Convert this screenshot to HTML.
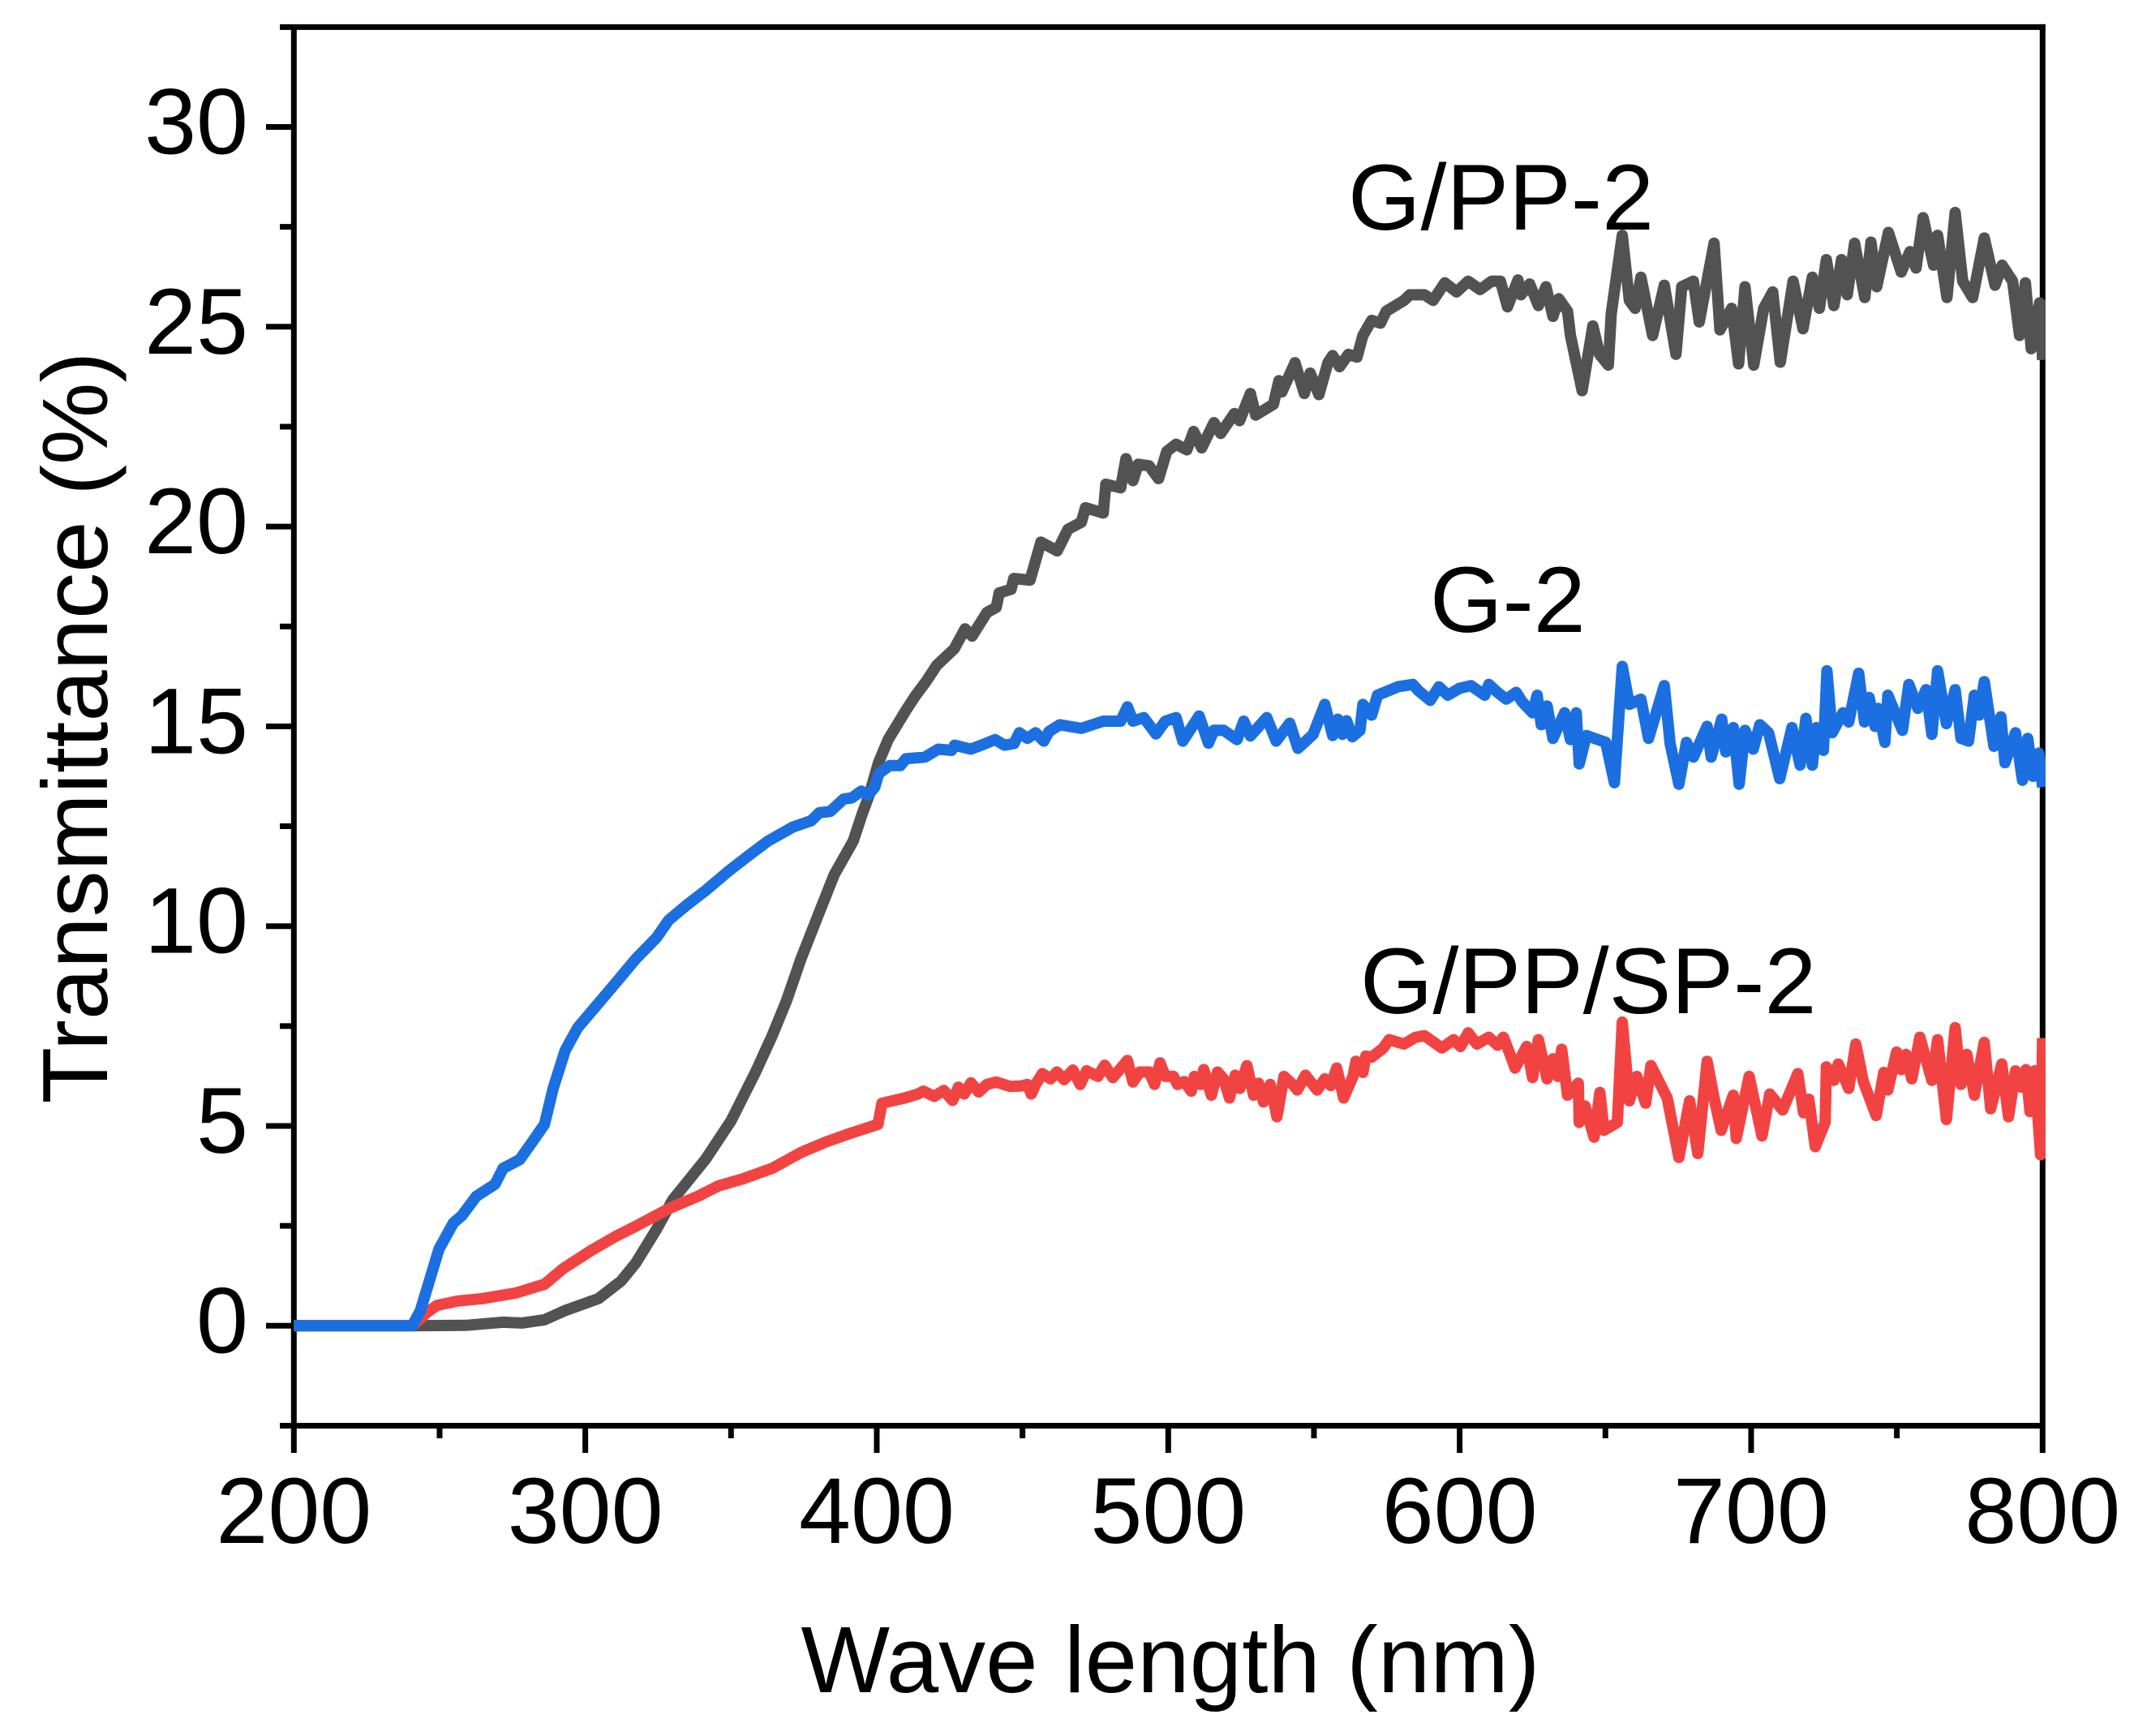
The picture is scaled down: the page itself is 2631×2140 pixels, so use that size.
<!DOCTYPE html>
<html lang="en">
<head>
<meta charset="utf-8">
<title>Transmittance vs wave length</title>
<style>
html,body{margin:0;padding:0;background:#fff;}
svg{display:block;}
text{font-family:"Liberation Sans",Arial,sans-serif;fill:#000;}
</style>
</head>
<body>
<svg id="chart" xmlns="http://www.w3.org/2000/svg" width="2631" height="2140" viewBox="0 0 2631 2140">
  <rect x="0" y="0" width="2631" height="2140" fill="#fff"/>
  <defs><clipPath id="plot-clip"><rect x="362" y="20" width="2160" height="1760"/></clipPath></defs>
  <g id="axes"></g>
  <g id="series" clip-path="url(#plot-clip)"></g>
  <text x="1443" y="2086" font-size="116" text-anchor="middle">Wave length (nm)</text>
  <text transform="translate(132,897) rotate(-90)" font-size="114" text-anchor="middle">Transmittance (%)</text>
  <text x="1662" y="283" font-size="115">G/PP-2</text>
  <text x="1763" y="779" font-size="115">G-2</text>
  <text x="1677" y="1249" font-size="115">G/PP/SP-2</text>
</svg>
<script>
const xMajorTicks = [200,300,400,500,600,700,800];
const xMinorTicks = [250,350,450,550,650,750];
const yMajorTicks = [0,5,10,15,20,25,30];
const yMinorTicks = [-2.5,2.5,7.5,12.5,17.5,22.5,27.5,32.5];

const grayNm = [200,240.6,259,271.8,278.2,286,293,304.5,312.3,317.3,
324.3,330,341.3,350,358.5,364,369,374,379.7,385.4,
391.9,395,397.4,400.6,403.9,410,413.2,416.9,420.6,426.6,
430.3,432.7,437.8,441,442,446.1,447,452.6,456.3,461.9,
465.6,470.2,471.6,477.7,478.6,483.7,485.5,487.9,489.7,493.4,
496.7,499.5,502.7,506.4,508.7,511.5,515.7,518,522.7,524.5,
528.2,530,536.1,538,539,543.5,546.7,548.7,551.7,554.8,
556.4,558.8,561.8,564.8,566.8,569.8,572.8,574.8,580.9,582.9,
587.9,590.9,594.9,598.9,602.9,607,611,614,616.4,620,
621,624,627,629.6,632,634,637,638,642,645.7,
648,651,652,655.8,658.2,660.2,662.2,666.2,670.2,674.2,
676.2,680.2,682.2,687.3,689.3,693.3,695.7,697.9,700.9,704.3,
707.4,710,714.4,717.8,721,723.4,725.8,728.4,731,733,
735.5,739,741.1,743.1,747.1,751.5,754.5,756.6,759,762.6,
764,767.2,770,772.6,776,780,783.7,786.1,789.7,792.1,
794.1,796.1,799,800];
const grayValues = [0,0,0.01,0.09,0.07,0.15,0.38,0.68,1.12,1.57,
2.4,3.15,4.17,5.13,6.36,7.24,8.13,9.18,10.24,11.29,
12.13,12.81,13.28,14.09,14.67,15.4,15.76,16.12,16.53,16.94,
17.44,17.26,17.85,17.98,18.34,18.43,18.7,18.66,19.61,19.39,
19.93,20.11,20.47,20.34,21.06,20.97,21.7,21.15,21.56,21.52,
21.2,21.88,22.06,21.92,22.38,21.97,22.6,22.33,22.83,22.65,
23.33,22.79,23.06,23.65,23.37,24.1,23.33,23.84,23.3,24.1,
24.28,24.0,24.31,24.24,24.78,25.16,25.09,25.39,25.66,25.8,
25.8,25.66,26.1,25.87,26.14,25.93,26.14,26.14,25.5,26.17,
25.8,26.07,25.53,26.0,25.26,25.7,25.39,24.78,23.4,25.02,
24.31,24.04,25.33,27.29,25.66,25.46,26.24,24.78,26.04,24.31,
26.0,26.14,25.12,27.09,24.92,25.46,24.07,26.0,24.04,25.46,
25.87,24.11,26.14,24.95,26.24,25.46,26.68,25.53,26.68,25.8,
27.09,25.73,27.12,26.0,27.36,26.37,26.88,26.47,27.73,26.54,
27.29,25.73,27.86,26.14,25.73,27.22,26.04,26.54,26.14,24.78,
26.1,24.45,25.6,24.17];

const redNm = [200,240.6,245.6,249.1,256.2,264.7,276.1,286,292.4,301.7,
310.2,317.3,328.6,338.6,345.7,354.2,364.1,374.1,382.6,391.1,
400.4,401.8,409.6,414.2,416,419.7,423,426,428,430,
432.3,435,437.8,441,445.7,449.4,451.7,453,454.5,456.8,
459.6,461.8,464.3,467.3,469.8,472,475.9,478.2,481,486,
487.9,490.2,493.5,495.3,497.2,499,501.8,503.2,505.5,507.9,
509,511.1,512.2,514.8,516.9,519,521,523,524.6,527,
529.3,531,532.7,535,537.3,539.7,542.7,544.3,547.1,551.1,
553.7,555.8,557.8,560.2,563.4,564.4,566.8,567.8,569.8,573.8,
575.8,580.9,584.9,587.9,593.9,597.9,600.3,602.9,605.9,610,
613,615,617,619,623,625,627,630,632,633.7,
635,637,640.7,641,643,646.1,648.1,649.5,654.1,655.8,
658.2,660.8,663.8,665.6,671.2,675.2,678.9,681.7,684.9,687.3,
689.7,693.9,694.9,699.3,703.7,706.4,710.8,716,718,719.8,
722,725.4,725.8,728.4,729.9,733.5,735.9,738.5,742.9,745.5,
746.9,749.9,751.5,753.1,755.1,757.9,762,764,767,770,
772,774,776.6,780,782.2,786,788.3,790.7,792.7,794.3,
795.7,797.3,799.3,800];
const redValues = [0,0,0.33,0.51,0.62,0.68,0.82,1.04,1.43,1.87,
2.23,2.49,2.93,3.24,3.5,3.68,3.94,4.34,4.6,4.82,
5.04,5.57,5.7,5.8,5.87,5.74,5.89,5.64,5.97,5.8,
6.08,5.85,6.04,6.1,5.99,6.0,6.04,5.8,6.04,6.31,
6.18,6.35,6.16,6.4,6.04,6.38,6.24,6.52,6.21,6.64,
6.1,6.35,6.35,6.04,6.58,6.24,6.24,6.04,6.11,5.87,
6.24,6.04,6.41,5.77,6.35,6.18,5.7,6.27,5.94,6.51,
5.77,6.07,5.6,6.04,5.23,6.24,6.04,5.9,6.27,5.9,
6.18,6.01,6.45,5.7,6.24,6.62,6.34,6.75,6.72,6.95,
7.16,7.05,7.22,7.26,6.95,7.16,6.99,7.33,7.05,7.22,
7.02,7.22,6.85,6.45,6.99,6.21,7.16,6.18,6.68,6.24,
6.92,5.77,6.07,5.09,5.5,4.72,5.84,4.89,5.09,7.6,
5.63,6.24,5.57,6.51,5.7,4.21,5.63,4.31,6.62,5.7,
4.89,5.77,4.69,6.24,4.75,5.8,5.4,6.31,5.33,5.67,
4.48,5.09,6.48,6.14,6.55,5.94,7.05,6.11,5.26,6.34,
5.9,6.85,6.41,6.79,6.18,7.22,6.14,7.16,5.16,7.46,
6.04,6.79,5.77,7.09,5.43,6.55,5.23,6.38,5.97,6.41,
5.36,6.38,4.28,7.2];

const blueNm = [200,240.6,243.4,246.3,249.8,254.8,257.6,262.6,269,271.8,
277.5,281.8,286,288.9,293.1,297.4,303.1,310.2,317.3,324.4,
328.6,334.3,341.4,349.2,357,362.7,371.2,377.5,380.3,384,
388.6,391.4,394.7,397,399.3,400.7,404.4,408.1,410,416.5,
421.1,425.7,426.7,432.2,435.9,440.6,443.8,447.1,448.9,451.7,
454.5,457.3,459.1,462.8,470.2,477.7,483.7,486,487.9,491.6,
495.8,499,502.7,505,510.6,513.8,515.7,519,523.6,525.9,
528.2,533.8,537,541.7,544.5,549.7,553.7,556.4,558.2,559.8,
561.2,563.2,565.8,566.8,569.8,571.8,578.8,583.9,585.9,589.9,
592.9,595.9,599.9,603.9,608.6,610,613,616,619.4,621.4,
625,626.6,628,630,632,636,638,640,641,643.5,
650.1,653.1,655.8,658.2,662.2,664.8,670.2,672.2,675.2,677.8,
680.2,684.9,686.3,689.9,691.3,693.9,695.9,697.9,700.7,703,
706,709.8,714,716.8,718.8,721,722.4,724.8,726,727.8,
731.5,733.5,736.9,738.9,740.5,742.5,743.5,745.9,746.9,751.9,
754.1,757.2,760,762,764,767,770,772,774.6,776.6,
778.2,780,783.3,785.7,787.1,790.7,793.1,794.9,796.7,798.7,
800];
const blueValues = [0,0,0.38,1.08,1.92,2.58,2.75,3.24,3.54,3.94,
4.16,4.6,5.04,5.92,6.89,7.46,7.95,8.56,9.18,9.71,
10.15,10.5,10.9,11.38,11.82,12.13,12.48,12.64,12.84,12.87,
13.18,13.21,13.38,13.28,13.48,13.82,14.02,14.02,14.19,14.23,
14.43,14.4,14.53,14.43,14.53,14.67,14.53,14.57,14.84,14.7,
14.84,14.63,14.87,15.04,14.95,15.13,15.13,15.49,15.13,15.22,
14.81,15.13,15.22,14.63,15.26,14.58,14.9,14.9,14.67,15.13,
14.76,15.22,14.63,15.08,14.45,14.8,15.55,14.77,15.18,14.8,
15.14,14.74,14.9,15.55,15.28,15.78,15.99,16.05,15.89,15.65,
15.99,15.78,15.95,16.02,15.78,16.05,15.85,15.68,15.85,15.62,
15.34,15.78,15.04,15.51,14.7,15.34,14.67,15.34,14.06,14.77,
14.6,13.59,16.5,15.55,15.68,14.7,16.02,14.57,13.55,14.6,
14.23,15.0,14.23,15.18,14.36,14.97,13.55,14.9,14.43,15.04,
14.84,13.69,14.97,14.03,15.2,14.03,14.97,14.4,16.39,14.84,
15.34,15.11,16.33,15.11,15.72,15.0,15.45,14.6,15.78,14.9,
16.05,15.45,15.92,14.8,16.39,15.07,15.92,14.7,14.63,15.78,
15.28,16.12,14.5,15.24,14.09,14.84,13.65,14.7,13.75,14.33,
13.48];

const SVG_NS = 'http://www.w3.org/2000/svg';
const axesGroup = document.getElementById('axes');
const seriesGroup = document.getElementById('series');

function xScale(nm){ return 362.3 + (nm - 200) * (2518.3 - 362.3) / 600; }
function yScale(v){ return 1634.3 - v * 49.26; }

function drawLine(x1, y1, x2, y2, name){
  const l = document.createElementNS(SVG_NS, 'line');
  l.setAttribute('x1', x1);
  l.setAttribute('y1', y1);
  l.setAttribute('x2', x2);
  l.setAttribute('y2', y2);
  l.setAttribute('stroke', '#000');
  l.setAttribute('stroke-width', 7);
  
  
  axesGroup.appendChild(l);
}

function drawLabel(x, y, txt, anchor, name){
  const t = document.createElementNS(SVG_NS, 'text');
  t.setAttribute('x', x);
  t.setAttribute('y', y);
  t.setAttribute('font-size', 115);
  t.setAttribute('text-anchor', anchor);
  
  
  t.textContent = txt;
  axesGroup.appendChild(t);
}

const xLeft = xScale(200), xRight = xScale(800);
const yTop = yScale(32.5), yBottom = yScale(-2.5);

drawLine(xLeft, yTop, xLeft, yBottom, 'y-axis-line');
drawLine(xRight, yTop - 3.5, xRight, yBottom, 'right-border');
drawLine(xLeft, yTop, xRight + 3.5, yTop, 'top-border');
drawLine(xLeft, yBottom, xRight, yBottom, 'x-axis-line');

xMajorTicks.forEach(function(v){
  drawLine(xScale(v), yBottom, xScale(v), 1791, 'x-major-tick');
  drawLabel(xScale(v), 1902, String(v), 'middle', 'x-tick-label');
});
xMinorTicks.forEach(function(v){
  drawLine(xScale(v), yBottom, xScale(v), 1773, 'x-minor-tick');
});
yMajorTicks.forEach(function(v){
  drawLine(328, yScale(v), xLeft, yScale(v), 'y-major-tick');
  drawLabel(306, yScale(v) + 33, String(v), 'end', 'y-tick-label');
});
yMinorTicks.forEach(function(v){
  drawLine(345, yScale(v), xLeft, yScale(v), 'y-minor-tick');
});

function drawSeries(nms, vals, color, name){
  const pts = nms.map(function(n, i){ return xScale(n).toFixed(1) + ',' + yScale(vals[i]).toFixed(1); }).join(' ');
  const p = document.createElementNS(SVG_NS, 'polyline');
  p.setAttribute('points', pts);
  p.setAttribute('fill', 'none');
  p.setAttribute('stroke', color);
  p.setAttribute('stroke-width', 14);
  p.setAttribute('stroke-linejoin', 'round');
  
  
  seriesGroup.appendChild(p);
}

drawSeries(grayNm, grayValues, '#525252', 'series-g-pp-2');
drawSeries(redNm, redValues, '#F24343', 'series-g-pp-sp-2');
drawSeries(blueNm, blueValues, '#1B6FE0', 'series-g-2');
</script>
</body>
</html>
